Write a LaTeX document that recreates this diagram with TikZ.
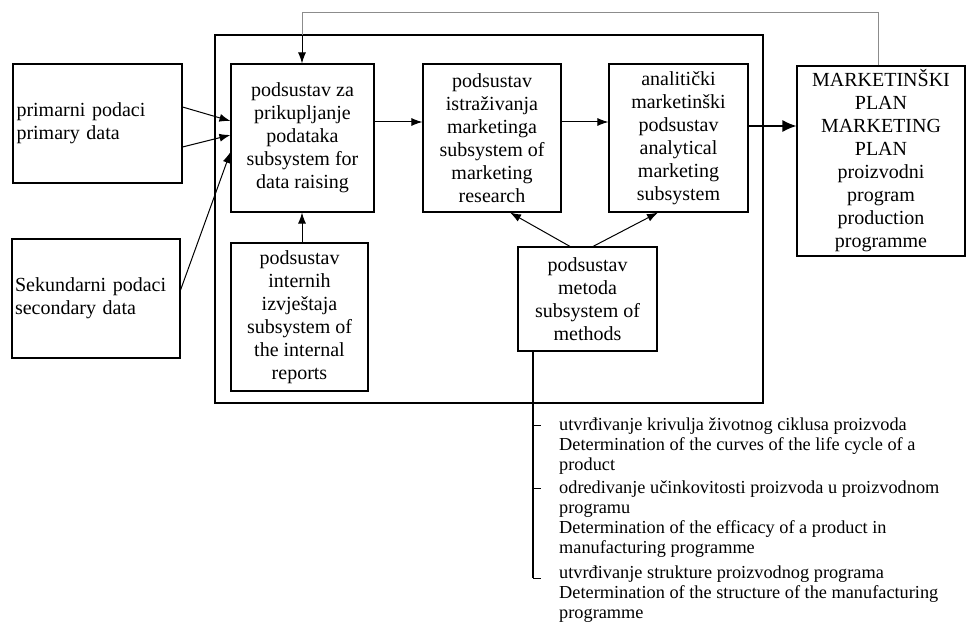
\documentclass[tikz,border=0pt]{standalone}
\usepackage{fontspec}
\setmainfont{Liberation Serif}
\usetikzlibrary{arrows.meta}

\tikzset{
  box/.style={draw, line width=1.1pt, align=center, inner sep=1pt,
    font=\fontsize{20}{23}\selectfont},
  leftbox/.style={box, align=left, text width=162pt, inner sep=3pt},
  arr/.style={line width=1pt, -{Latex[length=11pt,width=8pt]}},
  bigarr/.style={line width=1.3pt, -{Latex[length=14pt,width=12pt]}},
  feedback/.style={gray!90, line width=0.9pt},
  note/.style={anchor=base west, align=left, inner sep=0pt,
    font=\fontsize{18.3}{20}\selectfont}
}

\begin{document}
\begin{tikzpicture}[x=1pt,y=-1pt]
  \useasboundingbox (0,0) rectangle (966,623);

  % Frame of the information system
  \draw[line width=1.1pt] (215,35) rectangle (763,403);

  % Sources of data
  \node[leftbox, minimum width=169pt, minimum height=119pt] (prim) at (97.5,123.5)
    {primarni podaci\\primary data};
  \node[leftbox, minimum width=168pt, minimum height=119pt] (sek) at (96,298.5)
    {Sekundarni podaci\\secondary data};

  % Subsystems
  \node[box, minimum width=143pt, minimum height=148pt] (dataraise) at (302.5,138)
    {podsustav za\\prikupljanje\\podataka\\subsystem for\\data raising};
  \node[box, minimum width=137pt, minimum height=148pt] (internal) at (299.5,317)
    {podsustav\\internih\\izvještaja\\subsystem of\\the internal\\reports};
  \node[box, minimum width=138pt, minimum height=148pt] (research) at (492,138)
    {podsustav\\istraživanja\\marketinga\\subsystem of\\marketing\\research};
  \node[box, minimum width=139pt, minimum height=148pt] (anal) at (678.5,138)
    {analitički\\marketinški\\podsustav\\analytical\\marketing\\subsystem};
  \node[box, minimum width=139pt, minimum height=104pt] (metoda) at (587.5,299)
    {podsustav\\metoda\\subsystem of\\methods};

  % Marketing plan
  \node[box, minimum width=168pt, minimum height=190pt] (plan) at (881,161)
    {MARKETINŠKI\\PLAN\\MARKETING\\PLAN\\proizvodni\\program\\production\\programme};

  % Arrows between the boxes
  \draw[arr] (prim.east |- 0,107) -- (dataraise.west |- 0,121);
  \draw[arr] (prim.east |- 0,147) -- (dataraise.west |- 0,135);
  \draw[arr] (sek.east |- 0,290) -- (dataraise.west |- 0,152);
  \draw[arr] (internal.north -| 302,0) -- (dataraise.south -| 302,0);
  \draw[arr] (dataraise.east |- 0,122) -- (research.west |- 0,122);
  \draw[arr] (research.east |- 0,122) -- (anal.west |- 0,122);
  \draw[bigarr] (anal.east |- 0,126) -- (plan.west |- 0,126);
  \draw[arr] (570,0 |- metoda.north) -- (510,0 |- research.south);
  \draw[arr] (593,0 |- metoda.north) -- (658,0 |- anal.south);

  % Feedback from the plan
  \coordinate (fbtop) at (302,12);
  \coordinate (fbin) at (302,35);
  \draw[feedback] (plan.north -| 878,0) |- (fbtop) -- (fbin);
  \draw[arr] (fbin) -- (dataraise.north -| 302,0);

  % Methods list
  \coordinate (listend) at (533,578);
  \draw[line width=1.1pt] (metoda.south -| 533,0) -- (listend);
  \foreach \y in {425,488,578}
    \draw[line width=0.8pt] (533,\y) -- (541,\y);

  \node[note] (item1) at (559,470)
    {utvrđivanje krivulja životnog ciklusa proizvoda\\Determination of the curves of the life cycle of a\\product};
  \node[note] (item2) at (559,553)
    {odredivanje učinkovitosti proizvoda u proizvodnom\\programu\\Determination of the efficacy of a product in\\manufacturing programme};
  \node[note] (item3) at (559,618)
    {utvrđivanje strukture proizvodnog programa\\Determination of the structure of the manufacturing\\programme};
\end{tikzpicture}
\end{document}
